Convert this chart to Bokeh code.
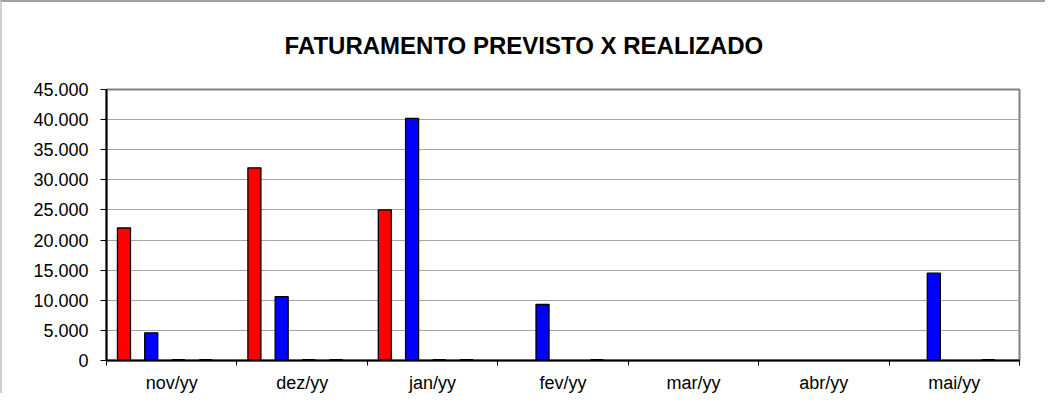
from bokeh.plotting import figure
from bokeh.models import ColumnDataSource, FixedTicker, Range1d, Title
from bokeh.embed import file_html
from bokeh.resources import INLINE

categories = ["nov/yy", "dez/yy", "jan/yy", "fev/yy", "mar/yy", "abr/yy", "mai/yy"]
previsto = [22000, 32000, 25000, None, None, None, None]
realizado = [4600, 10600, 40200, 9300, None, None, 14500]
serie3 = [0, 0, 0, None, None, None, None]
serie4 = [0, 0, 0, 0, None, None, 0]
series = [("Previsto", previsto, "#FF0000", 1.3), ("Realizado", realizado, "#0000FF", 1.3),
          ("Serie 3", serie3, "#808080", 3), ("Serie 4", serie4, "#808080", 3)]
offsets = [-0.366, -0.157, 0.051, 0.261]
y_ticks = [0, 5000, 10000, 15000, 20000, 25000, 30000, 35000, 40000, 45000]
y_labels = ["0", "5.000", "10.000", "15.000", "20.000", "25.000", "30.000", "35.000", "40.000", "45.000"]

FONT = "Liberation Sans"

p = figure(width=1045, height=393, output_backend="svg", toolbar_location=None,
           x_range=Range1d(0, len(categories)), y_range=Range1d(0, 45000),
           min_border_left=104, min_border_right=28, min_border_top=87, min_border_bottom=35)
p.title = Title(text="FATURAMENTO PREVISTO X  REALIZADO", align="left",
                text_font=FONT, text_font_size="24px", text_font_style="bold",
                text_color="#000000", offset=178, standoff=57, vertical_align="top")
p.title.text_line_height = 1.0

for (name, vals, color, lw), off in zip(series, offsets):
    xs = [i + 0.5 + off for i, v in enumerate(vals) if v is not None]
    ys = [v for v in vals if v is not None]
    src = ColumnDataSource(dict(x=xs, top=ys))
    p.vbar(x="x", top="top", bottom=0, width=0.1, source=src,
           fill_color=color, line_color="#000000", line_width=lw)

# y axis
p.yaxis.ticker = FixedTicker(ticks=y_ticks)
p.yaxis.major_label_overrides = {t: l for t, l in zip(y_ticks, y_labels)}
p.yaxis.major_label_text_font = FONT
p.yaxis.major_label_text_font_size = "18px"
p.yaxis.major_label_text_color = "#000000"
p.yaxis.axis_line_color = "#000000"
p.yaxis.axis_line_width = 2
p.yaxis.major_tick_line_color = "#000000"
p.yaxis.major_tick_in = 0
p.yaxis.major_tick_out = 6
p.yaxis.minor_tick_line_color = None
p.yaxis.major_label_standoff = 12

# x axis
x_centers = [i + 0.5 for i in range(len(categories))]
p.xaxis.ticker = FixedTicker(ticks=x_centers, minor_ticks=list(range(len(categories) + 1)))
p.xaxis.major_label_overrides = {c: l for c, l in zip(x_centers, categories)}
p.xaxis.major_label_text_font = FONT
p.xaxis.major_label_text_font_size = "18px"
p.xaxis.major_label_text_color = "#000000"
p.xaxis.axis_line_color = "#000000"
p.xaxis.axis_line_width = 2
p.xaxis.major_tick_line_color = None
p.xaxis.major_tick_out = 5
p.xaxis.major_tick_in = 0
p.xaxis.minor_tick_line_color = "#000000"
p.xaxis.minor_tick_out = 5
p.xaxis.minor_tick_in = 0
p.xaxis.major_label_standoff = 7

p.xgrid.grid_line_color = None
p.ygrid.grid_line_color = "#a6a6a6"
p.ygrid.grid_line_width = 1
p.outline_line_color = "#808080"
p.outline_line_width = 2
p.background_fill_color = "#ffffff"
p.border_fill_color = "#ffffff"
p.styles = {"border-top": "2px solid #a0a0a0", "border-left": "2px solid #d0d0d0"}

open("out.html", "w").write(file_html(p, INLINE))
